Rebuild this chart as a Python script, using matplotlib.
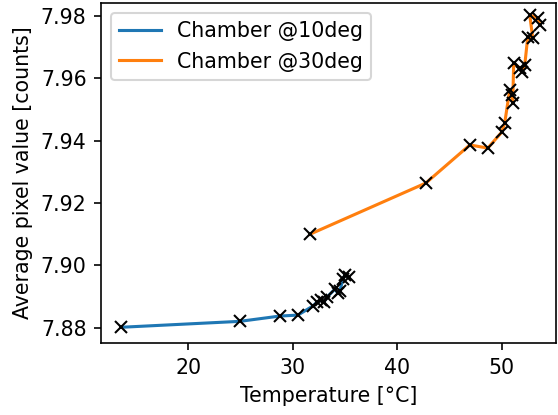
import matplotlib
matplotlib.use('Agg')
import matplotlib.pyplot as plt

# Chamber @10deg run
temp_10 = [13.56, 24.95, 28.78, 30.50, 31.93, 32.32, 32.70, 32.98, 33.27,
           34.04, 34.33, 34.52, 34.80, 35.00, 35.38]
pix_10 = [7.8802, 7.8821, 7.8838, 7.8841, 7.8870, 7.8882, 7.8889, 7.8882,
          7.8898, 7.8924, 7.8911, 7.8918, 7.8956, 7.8969, 7.8962]

# Chamber @30deg run
temp_30 = [31.65, 42.75, 46.96, 48.68, 50.02, 50.30, 50.78, 50.97, 51.07,
           51.16, 51.74, 51.93, 52.22, 52.51, 52.98, 52.70, 53.47, 53.66]
pix_30 = [7.9100, 7.9264, 7.9386, 7.9376, 7.9427, 7.9456, 7.9562, 7.9546,
          7.9520, 7.9648, 7.9632, 7.9620, 7.9642, 7.9732, 7.9729, 7.9802,
          7.9793, 7.9771]

DPI = 148
fig, ax = plt.subplots(figsize=(558 / DPI, 415 / DPI), dpi=DPI)
fig.subplots_adjust(left=0.181, right=0.996, top=0.993, bottom=0.173)

ax.plot(temp_10, pix_10, label='Chamber @10deg')
ax.plot(temp_30, pix_30, label='Chamber @30deg')
ax.plot(temp_10, pix_10, 'kx')
ax.plot(temp_30, pix_30, 'kx')

ax.set_xlim(11.65, 55.19)
ax.set_ylim(7.8751, 7.9841)
ax.set_xlabel('Temperature [°C]')
ax.set_ylabel('Average pixel value [counts]')
ax.legend(loc='upper left')

plt.savefig('out.png', dpi=DPI)
